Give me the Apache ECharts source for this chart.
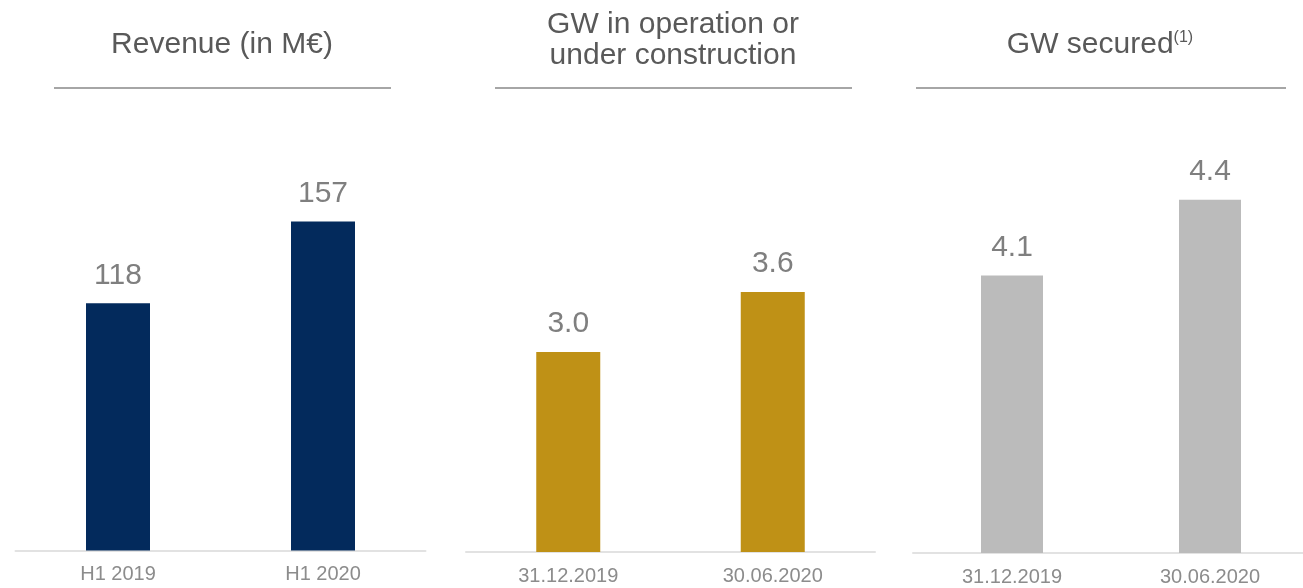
<!DOCTYPE html>
<html>
<head>
<meta charset="utf-8">
<script src="https://cdn.jsdelivr.net/npm/echarts@6/dist/echarts.min.js"></script>
<style>
html,body{margin:0;padding:0;background:#fff;}
#chart{width:1303px;height:588px;}
</style>
</head>
<body>
<div id="chart"></div>
<script>
// ---- data ----
var revenueCategories = ['H1 2019', 'H1 2020'];
var revenueValues = [118, 157];
var gwCategories = ['31.12.2019', '30.06.2020'];
var gwOperationValues = [3.0, 3.6];
var gwSecuredValues = [4.1, 4.4];
var panelTitles = ['Revenue (in M€)', 'GW in operation or\nunder construction', 'GW secured{sup|(1)}'];

var FONT = '"Liberation Sans", Arial, Helvetica, sans-serif';
var chart = echarts.init(document.getElementById('chart'), null, {renderer: 'canvas'});

var panels = [
  {left: 15.5, width: 410, height: 500.5, min: 0, max: 238.9, color: '#032a5c', barWidth: 64, cats: revenueCategories, vals: revenueValues, dec: 0},
  {left: 466, width: 409, height: 502, min: 1, max: 6.02, color: '#bf9116', barWidth: 64, cats: gwCategories, vals: gwOperationValues, dec: 1},
  {left: 913, width: 396, height: 503, min: 3, max: 4.994, color: '#bbbbbb', barWidth: 62, cats: gwCategories, vals: gwSecuredValues, dec: 1}
];

var grids = [], xAxes = [], yAxes = [], series = [];
panels.forEach(function (p, i) {
  grids.push({left: p.left, top: 50, width: p.width, height: p.height, outerBoundsMode: 'none', containLabel: false});
  xAxes.push({
    type: 'category', gridIndex: i, data: p.cats,
    axisLine: {show: true, lineStyle: {color: '#e2e2e2', width: 2}},
    axisTick: {show: false},
    axisLabel: {color: '#8c8c8c', fontSize: 20, fontFamily: FONT, margin: 14}
  });
  yAxes.push({
    type: 'value', gridIndex: i, min: p.min, max: p.max, show: false,
    splitLine: {show: false}
  });
  series.push({
    type: 'bar', xAxisIndex: i, yAxisIndex: i, data: p.vals,
    barWidth: p.barWidth,
    itemStyle: {color: p.color},
    label: {
      show: true, position: 'top', distance: 13,
      color: '#7f7f7f', fontSize: 30, fontFamily: FONT,
      formatter: (function (d) { return function (prm) { return prm.value.toFixed(d); }; })(p.dec)
    },
    emphasis: {disabled: true},
    silent: true
  });
});

var titleX = [222, 673, 1100];
var titleY = [45, 40, 45];
var underlines = [[54, 391], [495, 852], [916, 1286]];
var graphics = [];
panelTitles.forEach(function (t, i) {
  graphics.push({
    type: 'text', x: titleX[i], y: titleY[i], silent: true,
    style: {
      text: t, fill: '#595959', font: '30px ' + FONT,
      align: 'center', verticalAlign: 'middle', lineHeight: 31,
      rich: {sup: {fontSize: 16, fill: '#595959', fontFamily: FONT, verticalAlign: 'top', lineHeight: 30, padding: [0, 0, 12, 0]}}
    }
  });
  graphics.push({
    type: 'line', silent: true,
    shape: {x1: underlines[i][0], y1: 88, x2: underlines[i][1], y2: 88},
    style: {stroke: '#a6a6a6', lineWidth: 2}
  });
});

chart.setOption({
  backgroundColor: '#ffffff',
  animation: false,
  grid: grids,
  xAxis: xAxes,
  yAxis: yAxes,
  series: series,
  graphic: graphics
});
</script>
</body>
</html>
